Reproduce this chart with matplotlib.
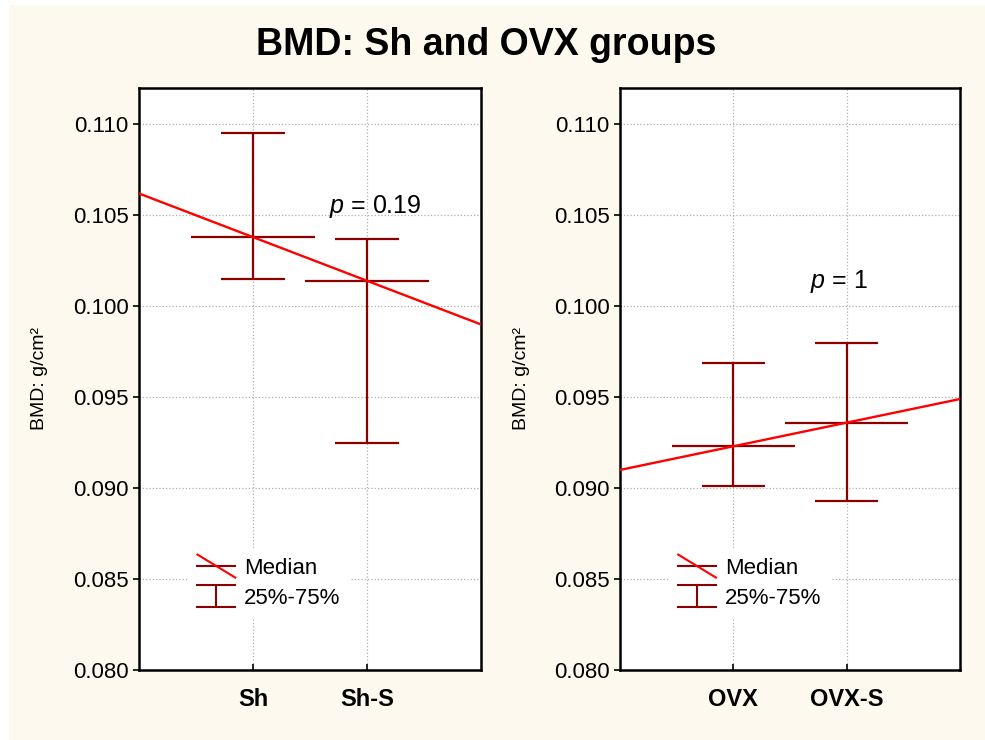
import matplotlib
matplotlib.use('Agg')
import matplotlib.pyplot as plt
import numpy as np
from matplotlib.lines import Line2D
from matplotlib.legend_handler import HandlerBase
from matplotlib.patches import Rectangle
from matplotlib.ticker import FormatStrFormatter

plt.rcParams['font.family'] = ['Liberation Sans', 'DejaVu Sans']
plt.rcParams['mathtext.fontset'] = 'custom'
plt.rcParams['mathtext.it'] = 'Liberation Sans:italic'
plt.rcParams['mathtext.rm'] = 'Liberation Sans'

# data
groups_left = ['Sh', 'Sh-S']
median_left = [0.1038, 0.1014]
q1_left = [0.1015, 0.0925]
q3_left = [0.1095, 0.1037]
p_left = 'p = 0.19'

groups_right = ['OVX', 'OVX-S']
median_right = [0.0923, 0.0936]
q1_right = [0.0901, 0.0893]
q3_right = [0.0969, 0.0980]
p_right = 'p = 1'

title = 'BMD: Sh and OVX groups'
ylabel = 'BMD: g/cm\u00b2'
yticks = [0.080, 0.085, 0.090, 0.095, 0.100, 0.105, 0.110]

DARK = '#8b0000'
RED = '#ff0000'
CREAM = '#fdf9ee'


class HandlerMedian(HandlerBase):
    def create_artists(self, legend, orig_handle, xdescent, ydescent,
                       width, height, fontsize, trans):
        yc = height / 2 - ydescent
        x0, x1 = -xdescent, -xdescent + width
        h = Line2D([x0, x1], [yc, yc], color=DARK, lw=1.5, transform=trans)
        d = Line2D([x0, x1], [yc + 0.6 * height, yc - 0.6 * height],
                   color=RED, lw=1.5, transform=trans)
        return [h, d]


class HandlerBox(HandlerBase):
    def create_artists(self, legend, orig_handle, xdescent, ydescent,
                       width, height, fontsize, trans):
        yc = height / 2 - ydescent
        x0, x1 = -xdescent, -xdescent + width
        xm = (x0 + x1) / 2
        top, bot = yc + 0.6 * height, yc - 0.55 * height
        a = Line2D([x0, x1], [top, top], color=DARK, lw=1.5, transform=trans)
        b = Line2D([x0, x1], [bot, bot], color=DARK, lw=1.5, transform=trans)
        c = Line2D([xm, xm], [bot, top], color=DARK, lw=1.5, transform=trans)
        return [a, b, c]


def draw_panel(ax, groups, med, q1, q3, ptxt, pxy):
    x = np.arange(1, len(groups) + 1)
    ax.vlines(x, q1, q3, color=DARK, lw=1.6, zorder=3)
    ax.hlines(q1, x - 0.28, x + 0.28, color=DARK, lw=1.6, zorder=3)
    ax.hlines(q3, x - 0.28, x + 0.28, color=DARK, lw=1.6, zorder=3)
    ax.hlines(med, x - 0.54, x + 0.54, color=DARK, lw=1.6, zorder=3)

    # line through the medians, over the whole axis
    k, b = np.polyfit(x, med, 1)
    xs = np.array([0, 3])
    ax.plot(xs, k * xs + b, color=RED, lw=1.7, zorder=4)

    ax.set_xlim(0, 3)
    ax.set_ylim(0.080, 0.112)
    ax.set_xticks(x)
    ax.set_xticklabels(groups, fontsize=17, fontweight='bold')
    ax.set_yticks(yticks)
    ax.yaxis.set_major_formatter(FormatStrFormatter('%.3f'))
    ax.tick_params(axis='y', labelsize=16, direction='out', length=4, width=1.2)
    ax.tick_params(axis='x', direction='in', length=4, width=1.2, pad=13)
    ax.grid(True, color='#b0b0b0', ls=':', lw=0.9)
    ax.set_axisbelow(True)
    for s in ax.spines.values():
        s.set_linewidth(1.8)
    ax.set_facecolor('white')

    ax.text(pxy[0], pxy[1], ptxt.replace('p', r'$p$', 1), fontsize=18,
            ha='center', va='center')

    handles = [Line2D([], []), Rectangle((0, 0), 1, 1)]
    leg = ax.legend(handles, ['Median', '25%-75%'],
                    handler_map={Line2D: HandlerMedian(), Rectangle: HandlerBox()},
                    loc='lower left', bbox_to_anchor=(0.145, 0.09),
                    fontsize=16, frameon=True, fancybox=False,
                    handlelength=1.7, handleheight=0.95, handletextpad=0.4,
                    labelspacing=0.35, borderpad=0.4, borderaxespad=0)
    leg.get_frame().set_facecolor('white')
    leg.get_frame().set_edgecolor('white')
    leg.get_frame().set_alpha(1)


fig = plt.figure(figsize=(9.85, 7.4), dpi=100)
fig.patch.set_facecolor('white')
fig.patches.append(Rectangle((9 / 985, 0), 1, 1 - 5 / 740, transform=fig.transFigure,
                             facecolor=CREAM, edgecolor='none', zorder=-10))

ax1 = fig.add_axes([139 / 985, 1 - 670 / 740, 342 / 985, 582 / 740])
ax2 = fig.add_axes([620 / 985, 1 - 670 / 740, 340 / 985, 582 / 740])

draw_panel(ax1, groups_left, median_left, q1_left, q3_left, p_left, (2.07, 0.1055))
draw_panel(ax2, groups_right, median_right, q1_right, q3_right, p_right, (1.93, 0.10135))

fig.text(0.494, 1 - 45 / 740, title, fontsize=27, fontweight='bold',
         ha='center', va='center')
fig.text(40 / 985, 1 - 378 / 740, ylabel, fontsize=14, rotation=90,
         ha='center', va='center')
fig.text(521 / 985, 1 - 378 / 740, ylabel, fontsize=14, rotation=90,
         ha='center', va='center')

fig.savefig('out.png', dpi=100, facecolor=fig.get_facecolor())
